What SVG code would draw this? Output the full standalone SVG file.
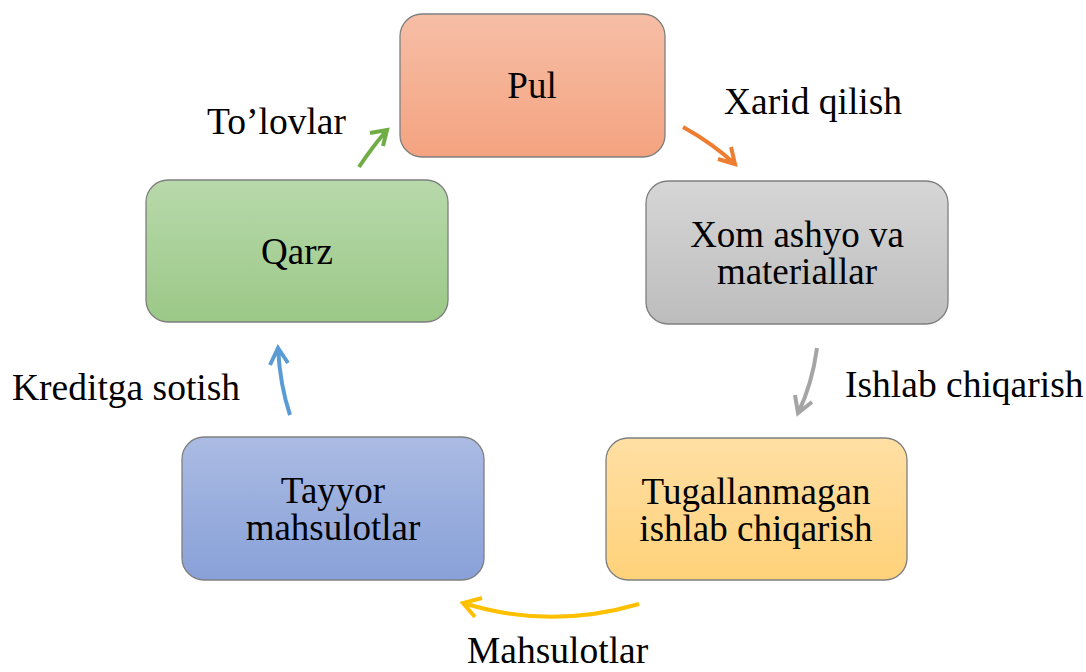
<svg xmlns="http://www.w3.org/2000/svg" width="1086" height="672" viewBox="0 0 1086 672">
<defs>
<linearGradient id="gOr" x1="0" y1="0" x2="0" y2="1"><stop offset="0" stop-color="#F6BEA6"/><stop offset="1" stop-color="#F4A380"/></linearGradient>
<linearGradient id="gGy" x1="0" y1="0" x2="0" y2="1"><stop offset="0" stop-color="#D6D6D6"/><stop offset="1" stop-color="#BDBDBD"/></linearGradient>
<linearGradient id="gGr" x1="0" y1="0" x2="0" y2="1"><stop offset="0" stop-color="#B8D9AB"/><stop offset="1" stop-color="#9BC887"/></linearGradient>
<linearGradient id="gYe" x1="0" y1="0" x2="0" y2="1"><stop offset="0" stop-color="#FFDFA4"/><stop offset="1" stop-color="#FFD27A"/></linearGradient>
<linearGradient id="gBl" x1="0" y1="0" x2="0" y2="1"><stop offset="0" stop-color="#ABBBE3"/><stop offset="1" stop-color="#88A1D8"/></linearGradient>
</defs>
<style>
.box{stroke:#7F7F7F;stroke-width:1.3}
.t{font-family:"Liberation Serif","Times New Roman",serif;font-size:37px;fill:#000;text-anchor:middle}
.l{font-family:"Liberation Serif","Times New Roman",serif;font-size:37.5px;fill:#000}
.c{fill:none;stroke-width:4;stroke-linecap:butt;stroke-linejoin:miter}
</style>
<rect width="1086" height="672" fill="#fff"/>
<g id="pul"><rect class="box" x="400" y="14" width="265" height="143" rx="22" fill="url(#gOr)"/><text class="t" x="532" y="98">Pul</text></g>
<g id="xom"><rect class="box" x="646" y="181" width="302" height="143" rx="22" fill="url(#gGy)"/><text class="t" x="797" y="247">Xom ashyo va</text><text class="t" x="797" y="284">materiallar</text></g>
<g id="tugal"><rect class="box" x="606" y="438" width="301" height="142" rx="22" fill="url(#gYe)"/><text class="t" x="756" y="504">Tugallanmagan</text><text class="t" x="756" y="541">ishlab chiqarish</text></g>
<g id="tayyor"><rect class="box" x="182" y="437" width="302" height="143" rx="22" fill="url(#gBl)"/><text class="t" x="333" y="503">Tayyor</text><text class="t" x="333" y="540">mahsulotlar</text></g>
<g id="qarz"><rect class="box" x="146" y="180" width="302" height="142" rx="22" fill="url(#gGr)"/><text class="t" x="297" y="264">Qarz</text></g>
<g id="connectors">
<path class="c" stroke="#70AD47" d="M359 167 Q373 146 387 130 M370 133 L387 130 L383 146"/>
<path class="c" stroke="#ED7D31" d="M683 127 Q712 143 735 164 M718 159 L735 164 L731 147"/>
<path class="c" stroke="#A5A5A5" d="M817 348 Q812 385 798 413 M795 395 L798 413 L812 402"/>
<path class="c" stroke="#FFC000" d="M639 604 Q550 630 463 603 M475 617 L463 603 L482 598"/>
<path class="c" stroke="#5B9BD5" d="M290 415 Q280 385 278 348 M270 365 L278 348 L288 363"/>
</g>
<g id="labels">
<text class="l" x="207" y="134">To’lovlar</text>
<text class="l" x="724" y="114">Xarid qilish</text>
<text class="l" x="845" y="397">Ishlab chiqarish</text>
<text class="l" x="467" y="663">Mahsulotlar</text>
<text class="l" x="12" y="400">Kreditga sotish</text>
</g>
</svg>
